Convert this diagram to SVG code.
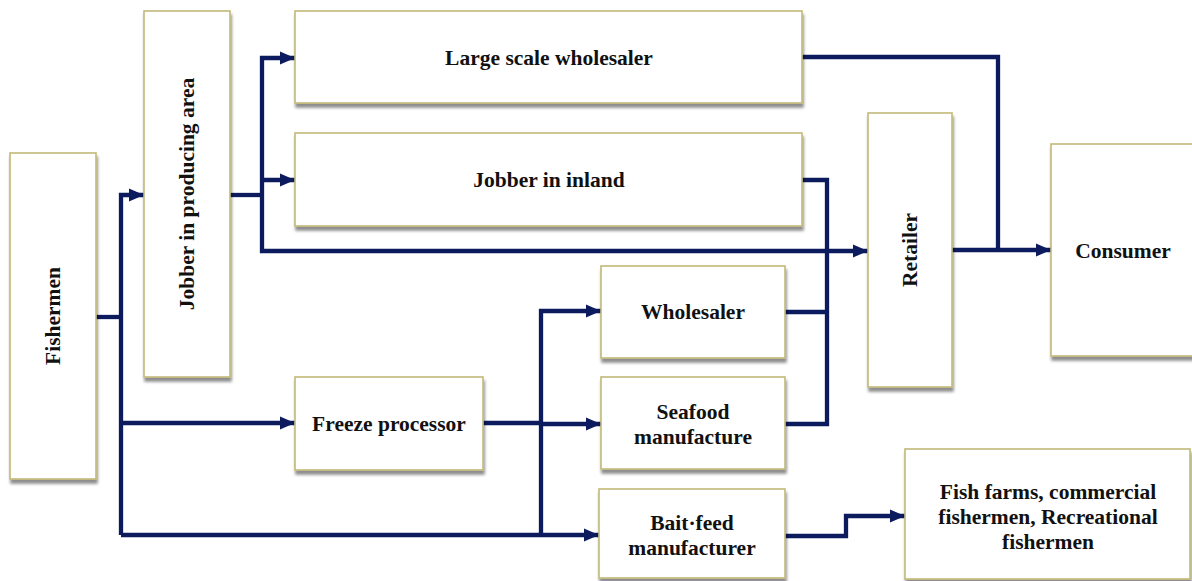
<svg xmlns="http://www.w3.org/2000/svg" width="1192" height="581" viewBox="0 0 1192 581">
<style>
.box{fill:#fff;stroke:#c2b978;stroke-width:1.6;filter:url(#sh)}
.t{font-family:"Liberation Serif","Times New Roman",serif;font-weight:bold;font-size:21.5px;fill:#111;text-anchor:middle;dominant-baseline:central}
.c{fill:none;stroke:#0c1a5e;stroke-width:4.3;stroke-linejoin:miter}
.a{marker-end:url(#ah)}
</style>
<defs>
<filter id="sh" x="-10%" y="-10%" width="130%" height="130%">
<feGaussianBlur in="SourceAlpha" stdDeviation="1.5"/>
<feOffset dx="1" dy="4" result="b"/>
<feComponentTransfer><feFuncA type="linear" slope="0.45"/></feComponentTransfer>
<feMerge><feMergeNode/><feMergeNode in="SourceGraphic"/></feMerge>
</filter>
<marker id="ah" markerUnits="userSpaceOnUse" markerWidth="15" markerHeight="15" viewBox="0 0 15 15" refX="15" refY="7.5" orient="auto">
<path d="M0,1 L15,7.5 L0,14 Z" fill="#0c1a5e"/>
</marker>
</defs>

<g id="connectors">
<path class="c" d="M96,317 H121"/>
<path class="c a" d="M121,535 V195 H144"/>
<path class="c a" d="M121,423 H295"/>
<path class="c a" d="M121,535 H599"/>
<path class="c" d="M230,195 H262"/>
<path class="c a" d="M262,195 V58 H295"/>
<path class="c a" d="M262,180 H295"/>
<path class="c a" d="M262,195 V251 H868"/>
<path class="c" d="M483,423 H541"/>
<path class="c a" d="M541,535 V311 H601"/>
<path class="c a" d="M541,424 H601"/>
<path class="c" d="M802,180 H827 V424 H785"/>
<path class="c" d="M785,312 H827"/>
<path class="c" d="M802,57 H998 V250"/>
<path class="c a" d="M952,250 H1051"/>
<path class="c a" d="M785,536 H846 V516 H905"/>
</g>

<g id="fishermen"><rect class="box" x="10" y="153" width="86" height="326"/><text class="t" transform="translate(53,316) rotate(-90)">Fishermen</text></g>
<g id="jobber-producing"><rect class="box" x="144" y="11" width="86" height="366"/><text class="t" transform="translate(187,194) rotate(-90)">Jobber in producing area</text></g>
<g id="large-scale"><rect class="box" x="295" y="11" width="507" height="92"/><text class="t" x="549" y="58">Large scale wholesaler</text></g>
<g id="jobber-inland"><rect class="box" x="295" y="133" width="507" height="93"/><text class="t" x="549" y="180">Jobber in inland</text></g>
<g id="freeze"><rect class="box" x="295" y="377" width="188" height="93"/><text class="t" x="389" y="424">Freeze processor</text></g>
<g id="wholesaler"><rect class="box" x="601" y="266" width="184" height="92"/><text class="t" x="693" y="312">Wholesaler</text></g>
<g id="seafood"><rect class="box" x="601" y="377" width="184" height="92"/><text class="t" x="693" y="412">Seafood</text><text class="t" x="693" y="437">manufacture</text></g>
<g id="baitfeed"><rect class="box" x="599" y="489" width="186" height="89"/><text class="t" x="692" y="523">Bait·feed</text><text class="t" x="692" y="548">manufacturer</text></g>
<g id="retailer"><rect class="box" x="868" y="113" width="84" height="274"/><text class="t" transform="translate(910,250) rotate(-90)">Retailer</text></g>
<g id="consumer"><rect class="box" x="1051" y="144" width="145" height="212"/><text class="t" x="1123" y="251">Consumer</text></g>
<g id="fishfarms"><rect class="box" x="905" y="449" width="285" height="130"/><text class="t" x="1048" y="492">Fish farms, commercial</text><text class="t" x="1048" y="517">fishermen, Recreational</text><text class="t" x="1048" y="542">fishermen</text></g>
</svg>
